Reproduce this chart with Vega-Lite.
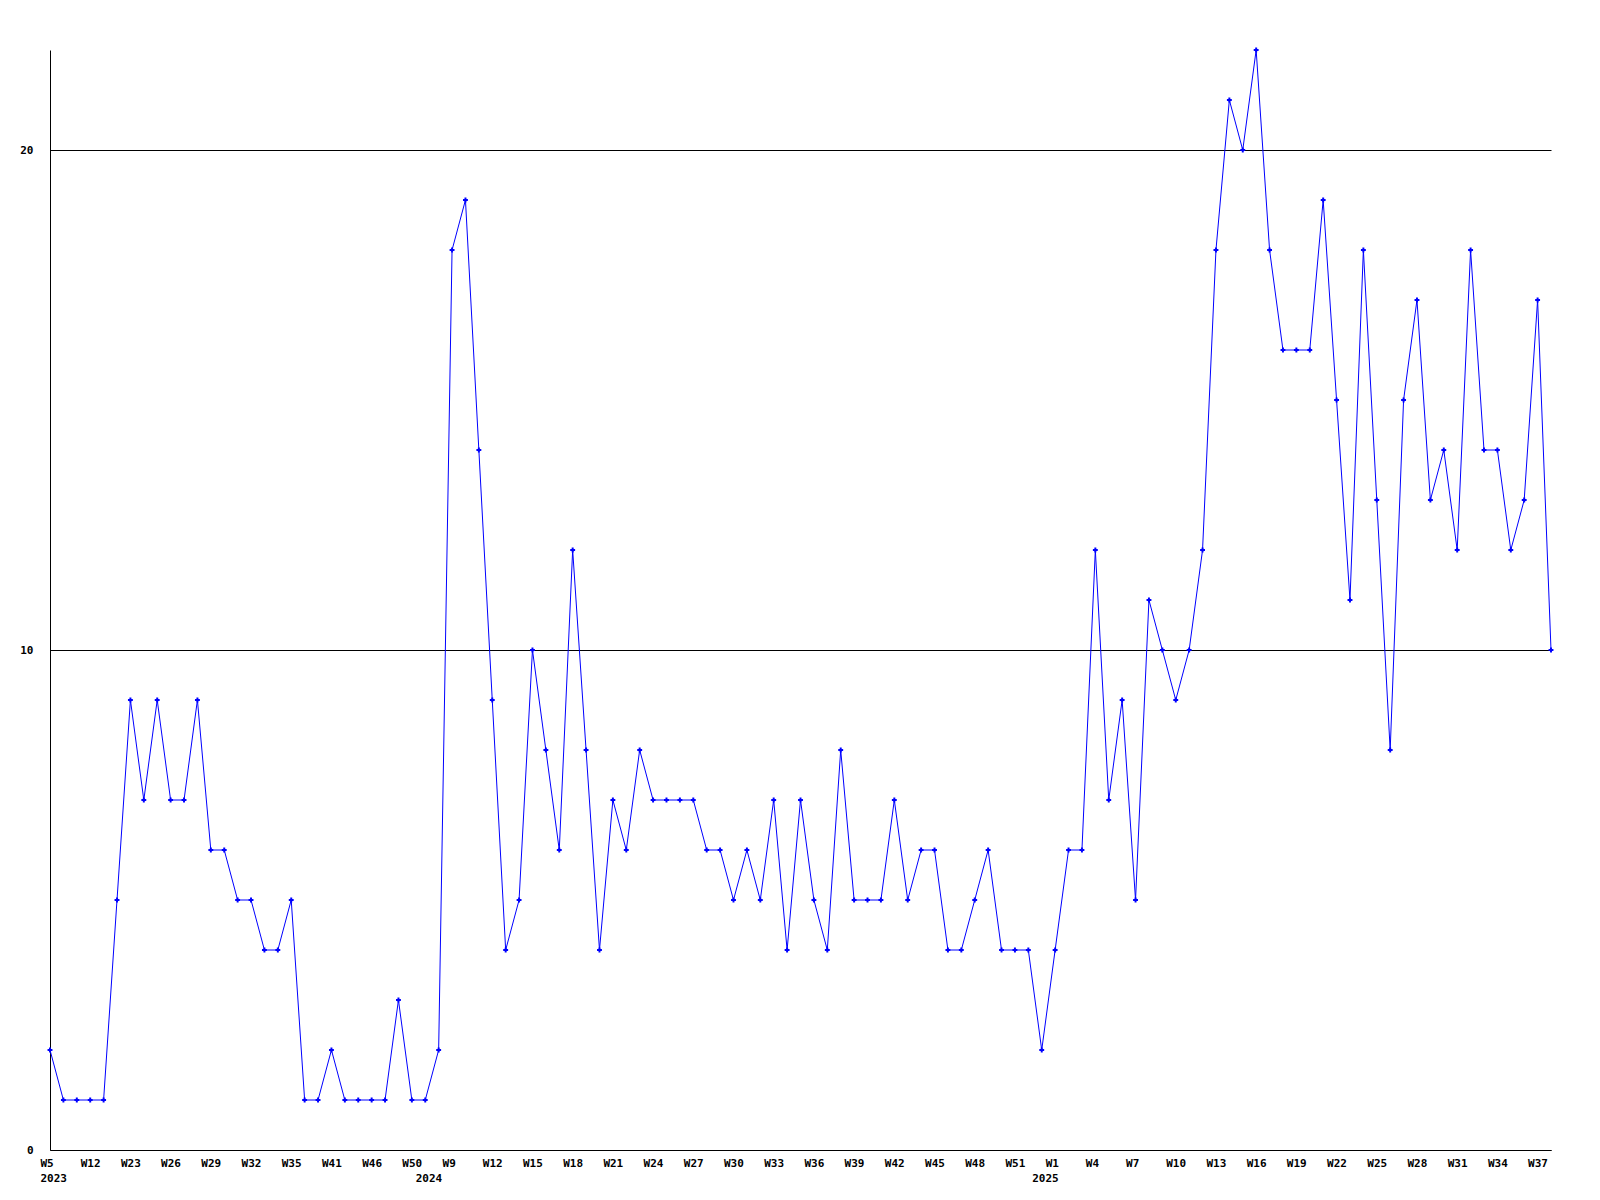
{
  "$schema": "https://vega.github.io/schema/vega-lite/v6.json",
  "autosize": {"type": "none"},
  "padding": {"left": 50, "top": 50, "right": 49, "bottom": 50},
  "width": 1501,
  "height": 1100,
  "background": "white",
  "config": {"view": {"stroke": null}},
  "data": {"values": [
    {"week": "2023-W05", "count": 2}, {"week": "2023-W07", "count": 1}, {"week": "2023-W09", "count": 1},
    {"week": "2023-W12", "count": 1}, {"week": "2023-W15", "count": 1}, {"week": "2023-W19", "count": 5},
    {"week": "2023-W23", "count": 9}, {"week": "2023-W24", "count": 7}, {"week": "2023-W25", "count": 9},
    {"week": "2023-W26", "count": 7}, {"week": "2023-W27", "count": 7}, {"week": "2023-W28", "count": 9},
    {"week": "2023-W29", "count": 6}, {"week": "2023-W30", "count": 6}, {"week": "2023-W31", "count": 5},
    {"week": "2023-W32", "count": 5}, {"week": "2023-W33", "count": 4}, {"week": "2023-W34", "count": 4},
    {"week": "2023-W35", "count": 5}, {"week": "2023-W37", "count": 1}, {"week": "2023-W39", "count": 1},
    {"week": "2023-W41", "count": 2}, {"week": "2023-W43", "count": 1}, {"week": "2023-W44", "count": 1},
    {"week": "2023-W46", "count": 1}, {"week": "2023-W47", "count": 1}, {"week": "2023-W49", "count": 3},
    {"week": "2023-W50", "count": 1}, {"week": "2024-W02", "count": 1}, {"week": "2024-W05", "count": 2},
    {"week": "2024-W09", "count": 18}, {"week": "2024-W10", "count": 19}, {"week": "2024-W11", "count": 14},
    {"week": "2024-W12", "count": 9}, {"week": "2024-W13", "count": 4}, {"week": "2024-W14", "count": 5},
    {"week": "2024-W15", "count": 10}, {"week": "2024-W16", "count": 8}, {"week": "2024-W17", "count": 6},
    {"week": "2024-W18", "count": 12}, {"week": "2024-W19", "count": 8}, {"week": "2024-W20", "count": 4},
    {"week": "2024-W21", "count": 7}, {"week": "2024-W22", "count": 6}, {"week": "2024-W23", "count": 8},
    {"week": "2024-W24", "count": 7}, {"week": "2024-W25", "count": 7}, {"week": "2024-W26", "count": 7},
    {"week": "2024-W27", "count": 7}, {"week": "2024-W28", "count": 6}, {"week": "2024-W29", "count": 6},
    {"week": "2024-W30", "count": 5}, {"week": "2024-W31", "count": 6}, {"week": "2024-W32", "count": 5},
    {"week": "2024-W33", "count": 7}, {"week": "2024-W34", "count": 4}, {"week": "2024-W35", "count": 7},
    {"week": "2024-W36", "count": 5}, {"week": "2024-W37", "count": 4}, {"week": "2024-W38", "count": 8},
    {"week": "2024-W39", "count": 5}, {"week": "2024-W40", "count": 5}, {"week": "2024-W41", "count": 5},
    {"week": "2024-W42", "count": 7}, {"week": "2024-W43", "count": 5}, {"week": "2024-W44", "count": 6},
    {"week": "2024-W45", "count": 6}, {"week": "2024-W46", "count": 4}, {"week": "2024-W47", "count": 4},
    {"week": "2024-W48", "count": 5}, {"week": "2024-W49", "count": 6}, {"week": "2024-W50", "count": 4},
    {"week": "2024-W51", "count": 4}, {"week": "2024-W52", "count": 4}, {"week": "2025-W00", "count": 2},
    {"week": "2025-W01", "count": 4}, {"week": "2025-W02", "count": 6}, {"week": "2025-W03", "count": 6},
    {"week": "2025-W04", "count": 12}, {"week": "2025-W05", "count": 7}, {"week": "2025-W06", "count": 9},
    {"week": "2025-W07", "count": 5}, {"week": "2025-W08", "count": 11}, {"week": "2025-W09", "count": 10},
    {"week": "2025-W10", "count": 9}, {"week": "2025-W11", "count": 10}, {"week": "2025-W12", "count": 12},
    {"week": "2025-W13", "count": 18}, {"week": "2025-W14", "count": 21}, {"week": "2025-W15", "count": 20},
    {"week": "2025-W16", "count": 22}, {"week": "2025-W17", "count": 18}, {"week": "2025-W18", "count": 16},
    {"week": "2025-W19", "count": 16}, {"week": "2025-W20", "count": 16}, {"week": "2025-W21", "count": 19},
    {"week": "2025-W22", "count": 15}, {"week": "2025-W23", "count": 11}, {"week": "2025-W24", "count": 18},
    {"week": "2025-W25", "count": 13}, {"week": "2025-W26", "count": 8}, {"week": "2025-W27", "count": 15},
    {"week": "2025-W28", "count": 17}, {"week": "2025-W29", "count": 13}, {"week": "2025-W30", "count": 14},
    {"week": "2025-W31", "count": 12}, {"week": "2025-W32", "count": 18}, {"week": "2025-W33", "count": 14},
    {"week": "2025-W34", "count": 14}, {"week": "2025-W35", "count": 12}, {"week": "2025-W36", "count": 13},
    {"week": "2025-W37", "count": 17}, {"week": "2025-W38", "count": 10}
  ]},
  "encoding": {
    "x": {
      "field": "week", "type": "ordinal", "sort": null,
      "scale": {"type": "point", "padding": 0},
      "axis": {
        "title": null, "grid": false, "ticks": false, "domain": true, "domainColor": "black", "domainWidth": 1,
        "labelAngle": 0, "labelAlign": "left", "labelOffset": -10, "labelBaseline": "top", "labelPadding": 7,
        "labelFont": "DejaVu Sans Mono", "labelFontWeight": "bold", "labelFontSize": 11, "labelColor": "black",
        "labelLineHeight": 15, "labelOverlap": false,
        "values": ["2023-W05","2023-W12","2023-W23","2023-W26","2023-W29","2023-W32","2023-W35","2023-W41","2023-W46","2023-W50","2024-W02","2024-W09","2024-W12","2024-W15","2024-W18","2024-W21","2024-W24","2024-W27","2024-W30","2024-W33","2024-W36","2024-W39","2024-W42","2024-W45","2024-W48","2024-W51","2025-W00","2025-W01","2025-W04","2025-W07","2025-W10","2025-W13","2025-W16","2025-W19","2025-W22","2025-W25","2025-W28","2025-W31","2025-W34","2025-W37"],
        "labelExpr": "datum.value == '2023-W05' ? ['W5', '2023'] : datum.value == '2024-W02' ? ['', '2024'] : datum.value == '2025-W00' ? ['', '2025'] : 'W' + parseInt(substring(datum.value, 6))"
      }
    },
    "y": {
      "field": "count", "type": "quantitative",
      "scale": {"domain": [0, 22], "nice": false, "zero": true},
      "axis": {
        "title": null, "values": [0, 10, 20], "grid": true, "gridColor": "black", "gridWidth": 1, "gridOpacity": 1,
        "ticks": false, "domain": true, "domainColor": "black", "domainWidth": 1, "labelPadding": 17,
        "labelFont": "DejaVu Sans Mono", "labelFontWeight": "bold", "labelFontSize": 11, "labelColor": "black"
      }
    }
  },
  "layer": [
    {"mark": {"type": "line", "color": "#0000FF", "strokeWidth": 1}},
    {"mark": {"type": "point", "shape": "cross", "filled": true, "color": "#0000FF", "size": 24, "opacity": 1}}
  ]
}
